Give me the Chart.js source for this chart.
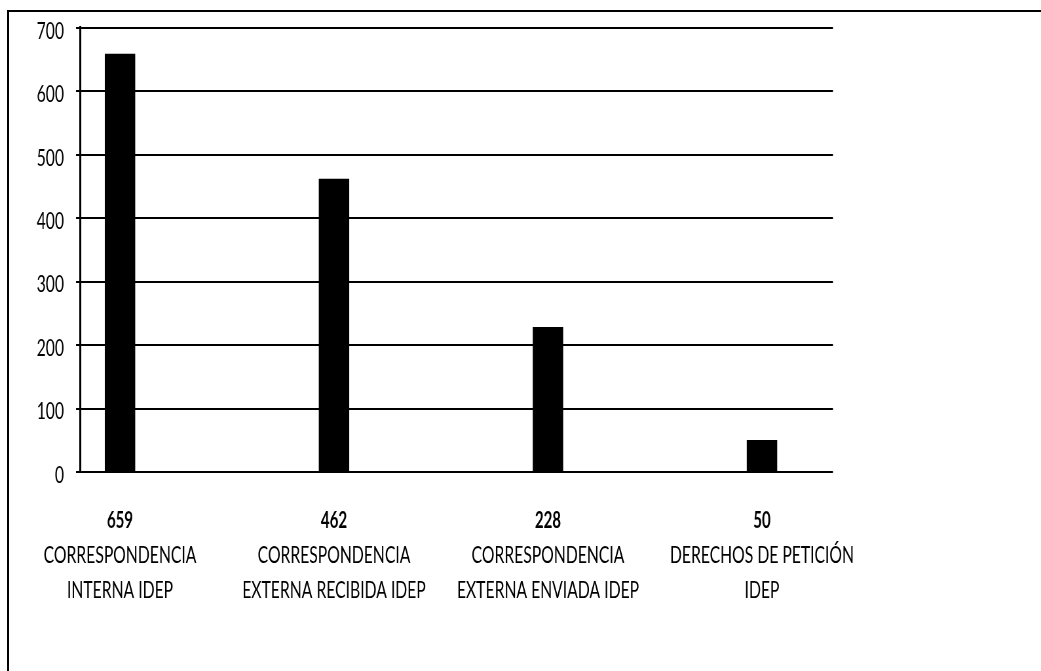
<!DOCTYPE html>
<html>
<head>
<meta charset="utf-8">
<script src="https://cdn.jsdelivr.net/npm/chart.js@4/dist/chart.umd.min.js"></script>
<style>
  html, body { margin: 0; padding: 0; background: #fff; }
  #wrap { position: relative; width: 1041px; height: 671px; }
  #frame {
    position: absolute; left: 7px; top: 10px; right: 0; bottom: 0;
    border-top: 2px solid #000; border-left: 2px solid #000;
    pointer-events: none;
  }
  canvas { position: absolute; left: 0; top: 0; }
</style>
</head>
<body>
<div id="wrap">
  <canvas id="grafico"></canvas>
  <div id="frame"></div>
</div>
<script>
// datos
const categorias = [
  ['CORRESPONDENCIA', 'INTERNA IDEP'],
  ['CORRESPONDENCIA', 'EXTERNA RECIBIDA IDEP'],
  ['CORRESPONDENCIA', 'EXTERNA ENVIADA IDEP'],
  ['DERECHOS DE PETICIÓN', 'IDEP']
];
const valores = [659, 462, 228, 50];
const ticksY = [0, 100, 200, 300, 400, 500, 600, 700];

const fuente = "Lato, 'Noto Sans', sans-serif";

// el texto original es estrecho: el lienzo se dibuja mas ancho y se comprime en horizontal
const K = 0.655;
const W = 1041, H = 671;
const lienzo = document.getElementById('grafico');
lienzo.width = Math.round(W / K);
lienzo.height = H;
lienzo.style.width = W + 'px';
lienzo.style.height = H + 'px';
const px = (v) => v / K;

// valores en negrita encima de cada categoria
const etiquetasValor = {
  id: 'etiquetasValor',
  afterDraw(chart) {
    const ctx = chart.ctx;
    const x = chart.scales.x;
    ctx.save();
    ctx.font = 'bold 23px ' + fuente;
    ctx.fillStyle = '#000';
    ctx.textAlign = 'center';
    ctx.textBaseline = 'middle';
    valores.forEach((v, i) => {
      ctx.fillText(String(v), x.getPixelForValue(i), 521);
    });
    ctx.restore();
  }
};

const ctx = lienzo.getContext('2d');
new Chart(ctx, {
  type: 'bar',
  data: {
    datasets: [{
      data: valores.map((v, i) => ({ x: i, y: v })),
      backgroundColor: '#000',
      borderWidth: 0,
      barThickness: px(30)
    }]
  },
  options: {
    responsive: false,
    animation: false,
    devicePixelRatio: 1,
    layout: { padding: { left: 0, top: 28, right: px(208), bottom: 0 } },
    plugins: { legend: { display: false }, tooltip: { enabled: false } },
    scales: {
      x: {
        type: 'linear',
        offset: false,
        min: -0.1869,
        max: 3.3318,
        grid: { display: false },
        border: { display: false },
        afterBuildTicks: (s) => { s.ticks = categorias.map((c, i) => ({ value: i })); },
        afterFit: (s) => {
          s.height = H - 472;
          s.paddingLeft = 0;
          s.paddingRight = 0;
        },
        ticks: {
          autoSkip: false,
          maxRotation: 0,
          padding: 58,
          color: '#000',
          font: { family: fuente, size: 24, lineHeight: 35 / 24 },
          callback: (v) => categorias[v] || ''
        }
      },
      y: {
        min: 0,
        max: 700,
        afterBuildTicks: (s) => { s.ticks = ticksY.map(v => ({ value: v })); },
        afterFit: (s) => {
          s.width = px(80);
          s.paddingTop = 0;
          s.paddingBottom = 0;
        },
        grid: { color: '#000', lineWidth: 2, tickLength: px(4) },
        border: { color: '#000', width: px(2) },
        ticks: {
          padding: px(12),
          labelOffset: 3,
          color: '#000',
          font: { family: fuente, size: 24 }
        }
      }
    }
  },
  plugins: [etiquetasValor]
});
</script>
</body>
</html>
